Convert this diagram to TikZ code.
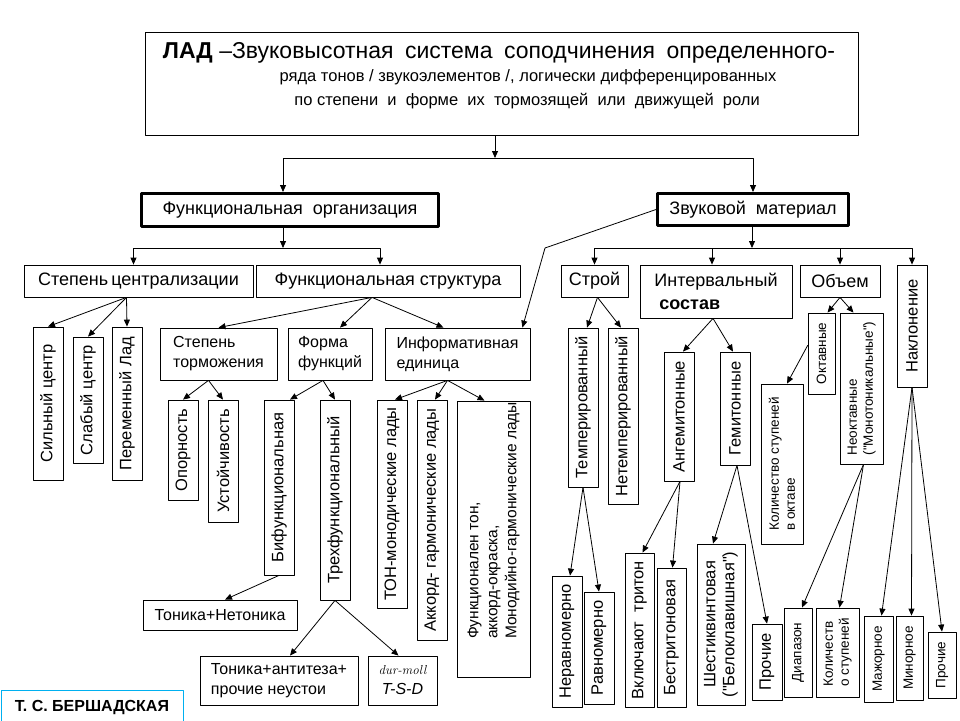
\documentclass[tikz,border=0pt]{standalone}
\usepackage{fontspec}
\newfontfamily\arial{Liberation Sans}
\usetikzlibrary{arrows.meta,calc}
\definecolor{credcyan}{RGB}{0,176,240}

\begin{document}
\begin{tikzpicture}[line cap=round,line join=round,>={Triangle[length=7pt,width=6pt]},x=1.0pt,y=-1.0pt,
	hbox/.style={draw,line width=0.8pt,inner sep=0pt,font=\arial\fontsize{18}{22}\selectfont},
	headbox/.style={draw,line width=3pt,inner sep=0pt,font=\arial\fontsize{18}{22}\selectfont},
	midbox/.style={draw,line width=0.8pt,inner sep=0pt,align=left,font=\arial\fontsize{16}{20}\selectfont},
	vbox/.style={draw,line width=0.8pt,inner sep=0pt,rotate=90,align=center,font=\arial\fontsize{16.5}{19}\selectfont},
	svbox/.style={vbox,font=\arial\fontsize{13.5}{16}\selectfont},
	link/.style={line width=0.8pt,->}]
				\useasboundingbox (0,0) rectangle (960,720);
				\clip (0,0) rectangle (960,720);
				% title
				\node[draw,line width=0.8pt,minimum width=713pt,minimum height=103pt] (lad) at (501.5,83.5) {};
				\node[font=\arial\fontsize{23}{26}\selectfont] (lad1) at (499,53) {{\bfseries ЛАД} –Звуковысотная\hspace{0.5em}система\hspace{0.5em}соподчинения\hspace{0.5em}определенного-};
				\node[font=\arial\fontsize{16.5}{20}\selectfont] (lad2) at (528,77) {ряда тонов / звукоэлементов /, логически дифференцированных};
				\node[font=\arial\fontsize{16.5}{20}\selectfont] (lad3) at (527,101) {по степени\ \ и\ \ форме\ \ их\ \ тормозящей\ \ или\ \ движущей\ \ роли};
				% level 1
				\node[headbox,minimum width=297pt,minimum height=33pt] (funkorg) at (290,210) {Функциональная\ \ организация};
				\node[headbox,minimum width=191pt,minimum height=32pt] (zvuk) at (753,209.5) {Звуковой\ \ материал};
				% level 2
				\node[hbox,minimum width=229pt,minimum height=32pt] (cent) at (138.5,281) {Степень\,централизации};
				\node[hbox,minimum width=264pt,minimum height=32pt] (fstruct) at (388,281) {Функциональная структура};
				\node[hbox,minimum width=67pt,minimum height=32pt] (stroy) at (594.5,281) {Строй};
				\node[hbox,minimum width=152pt,minimum height=53pt,align=left,font=\arial\fontsize{18}{23}\selectfont] (interv) at (716,291.5) {Интервальный\\\ {\bfseries состав}};
				\node[hbox,minimum width=80pt,minimum height=32pt] (obem) at (840,281) {Объем};
				\node[vbox,minimum width=122pt,minimum height=30pt] (naklon) at (912,326) {Наклонение};
				% left branch
				\node[vbox,minimum width=153pt,minimum height=30pt] (silny) at (48,403.5) {Сильный центр};
				\node[vbox,minimum width=126pt,minimum height=30pt] (slaby) at (88,400) {Слабый центр};
				\node[vbox,minimum width=153pt,minimum height=30pt] (perem) at (127,403.5) {Переменный Лад};
				\node[midbox,minimum width=117pt,minimum height=52pt] (stepentorm) at (218.5,354) {Степень\\торможения};
				\node[midbox,minimum width=84pt,minimum height=52pt] (forma) at (330,354) {Форма\\функций};
				\node[midbox,minimum width=145pt,minimum height=52pt] (inform) at (457.5,354) {Информативная\\единица};
				\node[vbox,minimum width=100pt,minimum height=30pt] (opora) at (183,450) {Опорность};
				\node[vbox,minimum width=122pt,minimum height=30pt] (ustoy) at (223,461) {Устойчивость};
				\node[vbox,minimum width=175pt,minimum height=30pt] (bifunk) at (279,487.5) {Бифункциональная};
				\node[vbox,minimum width=200pt,minimum height=30pt] (trefunk) at (335,500) {Трехфункциональный};
				\node[vbox,minimum width=208pt,minimum height=30pt] (tonmono) at (392,504) {ТОН-монодические лады};
				\node[vbox,minimum width=240pt,minimum height=30pt] (akkord) at (432,520) {Аккорд- гармонические лады};
				\node[vbox,minimum width=276pt,minimum height=73pt,align=left,font=\arial\fontsize{15.5}{19}\selectfont] (monod) at (493.5,539) {\hspace*{37pt}Функционален тон,\\\hspace*{37pt}аккорд-окраска,\\\hspace*{37pt}Монодийно-гармонические лады};
				\node[midbox,minimum width=154pt,minimum height=30pt] (tonnet) at (220,615) {Тоника+Нетоника};
				\node[midbox,minimum width=158pt,minimum height=49pt] (tonanti) at (279,680.5) {Тоника+антитеза+\\прочие неустои};
				\node[midbox,minimum width=69pt,minimum height=49pt,align=center] (durmoll) at (402.5,680.5) {{\rmfamily\itshape\fontsize{13}{15}\selectfont dur-moll}\\{\itshape T-S-D}};
				% right branch
				\node[vbox,minimum width=159pt,minimum height=30pt] (temper) at (583,407.5) {Темперированный};
				\node[vbox,minimum width=176pt,minimum height=30pt] (netemper) at (623,416) {Нетемперированный};
				\node[vbox,minimum width=129pt,minimum height=30pt] (angem) at (679,416.5) {Ангемитонные};
				\node[vbox,minimum width=113pt,minimum height=30pt] (gemit) at (735,408.5) {Гемитонные};
				\node[vbox,minimum width=131pt,minimum height=30pt] (nerav) at (567,641.5) {Неравномерно};
				\node[vbox,minimum width=112pt,minimum height=30pt] (ravn) at (599,648) {Равномерно};
				\node[vbox,minimum width=154pt,minimum height=29pt] (vklyuch) at (639.5,630) {Включают\ \ тритон};
				\node[vbox,minimum width=139pt,minimum height=29pt] (bestrit) at (671.5,637.5) {Бестритоновая};
				\node[vbox,minimum width=161pt,minimum height=48pt] (shest) at (721,624.5) {Шестиквинтовая\\("Белоклавишная")};
				\node[vbox,minimum width=76pt,minimum height=30pt] (prochieg) at (767,662) {Прочие};
				\node[svbox,minimum width=81pt,minimum height=27pt] (oktav) at (821.5,353.5) {Октавные};
				\node[svbox,minimum width=151pt,minimum height=43pt,align=left] (neoktav) at (861.5,388.5) {Неоктавные\\("Монотоникальные")};
				\node[svbox,minimum width=160pt,minimum height=42pt,align=left] (kolokt) at (782,464) {Количество ступеней\\в октаве};
				\node[svbox,minimum width=89pt,minimum height=28pt] (diapaz) at (798,652.5) {Диапазон};
				\node[svbox,minimum width=89pt,minimum height=43pt,align=left] (kolst) at (837.5,652.5) {Количеств\\о ступеней};
				\node[svbox,minimum width=86pt,minimum height=29pt] (mazh) at (878.5,659) {Мажорное};
				\node[svbox,minimum width=84pt,minimum height=27pt] (minor) at (909.5,658) {Минорное};
				\node[svbox,minimum width=66pt,minimum height=28pt] (prochien) at (942,665) {Прочие};
				% author
				\node[draw=credcyan,line width=0.8pt,minimum width=182pt,minimum height=34pt,font=\arial\bfseries\fontsize{16}{20}\selectfont] (credit) at (92,707) {Т. С. БЕРШАДСКАЯ};
				% connectors, top part
				\coordinate (split1) at (495,158);
				\coordinate (split2) at (283,248);
				\coordinate (split3) at (752,248);
				\coordinate (bend) at (545,248);
				\draw[link] (lad.south -| split1) -- (split1);
				\draw[link] (split1) -| ($(funkorg.north)+(-7,0)$);
				\draw[link] (split1) -| (zvuk.north);
				\draw[link] (funkorg.south -| split2) -- (split2);
				\draw[link] (split2) -| ($(cent.north)+(-5,0)$);
				\draw[link] (split2) -| ($(fstruct.north)+(-8,0)$);
				\draw[link] (zvuk.south -| split3) -- (split3);
				\draw[link] (split3) -| (stroy.north);
				\draw[link] (split3) -| ($(interv.north)+(-4,0)$);
				\draw[link] (split3) -| (obem.north);
				\draw[link] (split3) -| (naklon.east);
				\draw[link] (zvuk.west) -- (bend) -- ($(inform.north east)+(-8,0)$);
				% left part
				\draw[link] ($(cent.south)+(-12,0)$) -- (silny.east);
				\draw[link] ($(cent.south)+(-12,0)$) -- (slaby.east);
				\draw[link] ($(cent.south)+(-12,0)$) -- (perem.east);
				\draw[link] ($(fstruct.south)+(-16,0)$) -- (stepentorm.north);
				\draw[link] ($(fstruct.south)+(-16,0)$) -- ($(forma.north)+(10,0)$);
				\draw[link] ($(fstruct.south)+(-16,0)$) -- ($(inform.north)+(-14,0)$);
				\draw[link] ($(stepentorm.south)+(-10,0)$) -- (opora.east);
				\draw[link] ($(stepentorm.south)+(-10,0)$) -- (ustoy.east);
				\draw[link] ($(forma.south)+(-7,0)$) -- ($(bifunk.east)+(11,0)$);
				\draw[link] ($(forma.south)+(-7,0)$) -- (trefunk.east);
				\draw[link] ($(inform.south)+(-10,0)$) -- ($(tonmono.east)+(3,0)$);
				\draw[link] ($(inform.south)+(-10,0)$) -- ($(akkord.east)+(3,0)$);
				\draw[link] ($(inform.south)+(-10,0)$) -- ($(monod.east)+(-9,0)$);
				\draw[link] (bifunk.west) -- ($(tonnet.north)+(5,0)$);
				\draw[link] (trefunk.west) -- ($(tonanti.north)+(11,0)$);
				\draw[link] (trefunk.west) -- ($(durmoll.north)+(-4,0)$);
				% right part
				\draw[link] ($(stroy.south)+(3,0)$) -- ($(temper.east)+(4,0)$);
				\draw[link] ($(stroy.south)+(3,0)$) -- ($(netemper.east)+(-2,0)$);
				\draw[link] ($(interv.south)+(-3,0)$) -- ($(angem.east)+(4,0)$);
				\draw[link] ($(interv.south)+(-3,0)$) -- ($(gemit.east)+(-2,0)$);
				\draw[link] (temper.west) -- ($(nerav.east)+(3,0)$);
				\draw[link] (temper.west) -- (ravn.east);
				\draw[link] ($(angem.west)+(1,0)$) -- ($(vklyuch.east)+(3,0)$);
				\draw[link] ($(angem.west)+(1,0)$) -- ($(bestrit.east)+(1,0)$);
				\draw[link] ($(gemit.west)+(2,0)$) -- ($(shest.east)+(-8,0)$);
				\draw[link] ($(gemit.west)+(2,0)$) -- (prochieg.east);
				\draw[link] (obem.south) -- ($(oktav.east)+(6,0)$);
				\draw[link] (obem.south) -- ($(neoktav.east)+(-8,0)$);
				\draw[link] ($(oktav.north)+(0,-8)$) -- ($(kolokt.east)+(5,0)$);
				\draw[link] ($(neoktav.west)+(2,0)$) -- ($(diapaz.east)+(4,0)$);
				\draw[link] ($(neoktav.west)+(2,0)$) -- ($(kolst.east)+(2,0)$);
				\draw[link] (naklon.west) -- ($(mazh.east)+(3,0)$);
				\draw[link] (naklon.west) -- ($(minor.east)+(2,0)$);
				\draw[link] (naklon.west) -- (prochien.east);
\end{tikzpicture}
\end{document}
